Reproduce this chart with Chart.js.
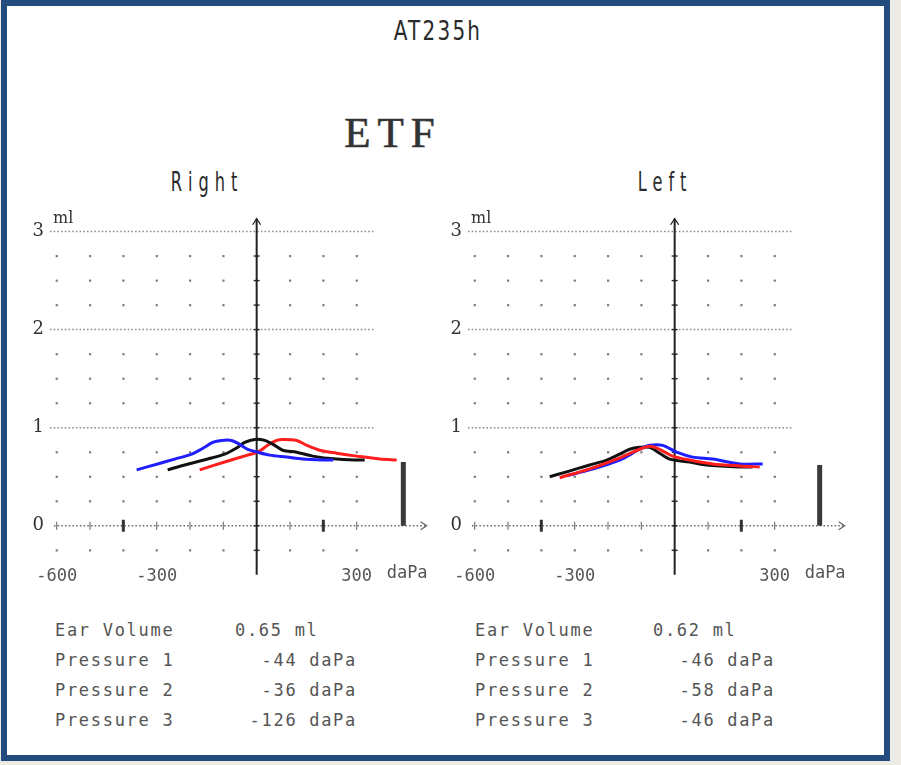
<!DOCTYPE html>
<html>
<head>
<meta charset="utf-8">
<script src="https://cdn.jsdelivr.net/npm/chart.js@4.4.1/dist/chart.umd.min.js"></script>
<style>
  body { margin: 0; background: #ecebe3; width: 901px; height: 765px; overflow: hidden; }
  #frame { position: absolute; left: 1px; top: 0; width: 877px; height: 749px; border: 6px solid #234b7d; background: #fff; }
  .txt { position: absolute; color: #2a2a2a; white-space: pre; }
  .cond { font-family: "DejaVu Sans", sans-serif; transform-origin: center; }
  .box { position: absolute; }
  .info { position: absolute; font-family: "DejaVu Sans Mono", monospace; font-size: 17px; letter-spacing: 1.7px; color: #555; white-space: pre; line-height: 20px; }
</style>
</head>
<body>
<div id="frame"></div>

<div class="txt cond" style="left:338px;top:15px;width:200px;text-align:center;font-size:27px;letter-spacing:3px;transform:scaleX(0.74);">AT235h</div>
<div class="txt" style="left:293px;top:108px;width:200px;text-align:center;font-family:'Liberation Serif',serif;font-size:43px;letter-spacing:7px;color:#333;-webkit-text-stroke:0.6px #333;">ETF</div>
<div class="txt cond" style="left:127px;top:166px;width:160px;text-align:center;font-size:27px;letter-spacing:10px;transform:scaleX(0.6);">Right</div>
<div class="txt cond" style="left:585px;top:166px;width:160px;text-align:center;font-size:27px;letter-spacing:10px;transform:scaleX(0.6);">Left</div>

<div class="box" style="left:20px;top:200px;width:410px;height:395px;"><canvas id="rightChart"></canvas></div>
<div class="box" style="left:438px;top:200px;width:410px;height:395px;"><canvas id="leftChart"></canvas></div>

<div id="rightInfo"></div>
<div id="leftInfo"></div>

<script>
// axis ticks
const pressureTicks = [-600, -300, 300];
const volumeTicks = [0, 1, 2, 3];
const gridPressures = [-600, -500, -400, -300, -200, -100, 0, 100, 200, 300];

// Right ear curves (daPa, ml)
const rightBlueP = [-360, -297, -246, -195, -156, -132, -105, -75, -51, -27, 3, 39, 90, 138, 210, 230];
const rightBlueV = [0.57, 0.63, 0.68, 0.73, 0.80, 0.85, 0.87, 0.87, 0.83, 0.78, 0.75, 0.72, 0.70, 0.68, 0.67, 0.67];
const rightBlackP = [-267, -216, -147, -96, -57, -36, -6, 24, 54, 78, 120, 168, 240, 309, 324];
const rightBlackV = [0.57, 0.62, 0.68, 0.73, 0.80, 0.85, 0.88, 0.87, 0.82, 0.77, 0.75, 0.71, 0.68, 0.67, 0.67];
const rightRedP = [-171, -96, -27, 3, 33, 60, 78, 120, 150, 189, 240, 300, 369, 420];
const rightRedV = [0.57, 0.65, 0.72, 0.75, 0.82, 0.87, 0.88, 0.87, 0.82, 0.77, 0.74, 0.71, 0.68, 0.67];

// Left ear curves (daPa, ml)
const leftBlackP = [-375, -324, -255, -204, -165, -135, -105, -75, -45, -15, 45, 96, 195, 234];
const leftBlackV = [0.50, 0.55, 0.62, 0.67, 0.73, 0.78, 0.80, 0.80, 0.74, 0.68, 0.65, 0.62, 0.60, 0.60];
const leftRedP = [-345, -255, -174, -105, -75, -45, -6, 45, 114, 195, 255];
const leftRedV = [0.49, 0.58, 0.68, 0.78, 0.81, 0.78, 0.71, 0.67, 0.63, 0.61, 0.60];
const leftBlueP = [-324, -255, -165, -105, -75, -36, 6, 54, 114, 195, 264];
const leftBlueV = [0.51, 0.57, 0.67, 0.78, 0.82, 0.82, 0.75, 0.70, 0.68, 0.63, 0.63];

// ear volume bar
const earVolume = [0.65, 0.62];
const barPressure = [440, 435];

// printed results
const infoLabels = ['Ear Volume', 'Pressure 1', 'Pressure 2', 'Pressure 3'];
const rightValues = ['0.65 ml', '-44 daPa', '-36 daPa', '-126 daPa'];
const leftValues = ['0.62 ml', '-46 daPa', '-58 daPa', '-46 daPa'];

const zip = (p, v) => p.map((x, i) => ({ x: x, y: v[i] }));

const printGrid = {
  id: 'printGrid',
  beforeDatasetsDraw(chart) {
    const { ctx, scales: { x, y } } = chart;
    ctx.save();
    // dot matrix
    ctx.fillStyle = '#7c7c7c';
    gridPressures.forEach(p => {
      for (let v = -0.25; v < 3; v += 0.25) {
        if (Number.isInteger(v)) continue;
        ctx.fillRect(x.getPixelForValue(p) - 1, y.getPixelForValue(v) - 1, 2.2, 2.2);
      }
    });
    // dotted ml lines
    ctx.strokeStyle = '#888';
    ctx.lineWidth = 1.5;
    ctx.setLineDash([1.5, 2.2]);
    [1, 2, 3].forEach(v => {
      const py = y.getPixelForValue(v);
      ctx.beginPath();
      ctx.moveTo(x.left, py);
      ctx.lineTo(x.getPixelForValue(350), py);
      ctx.stroke();
    });
    // zero line with arrow
    const y0 = y.getPixelForValue(0);
    ctx.strokeStyle = '#666';
    ctx.beginPath();
    ctx.moveTo(x.left + 4, y0);
    ctx.lineTo(x.getPixelForValue(505), y0);
    ctx.stroke();
    ctx.setLineDash([]);
    ctx.lineWidth = 1.3;
    const xa = x.getPixelForValue(510);
    ctx.beginPath();
    ctx.moveTo(xa - 6, y0 - 4); ctx.lineTo(xa, y0); ctx.lineTo(xa - 6, y0 + 4);
    ctx.stroke();
    // ticks on zero line
    gridPressures.forEach(p => {
      if (p === 0) return;
      const px = x.getPixelForValue(p);
      const bold = p === -400 || p === 200;
      ctx.strokeStyle = bold ? '#333' : '#777';
      ctx.lineWidth = bold ? 3 : 1.2;
      ctx.beginPath();
      ctx.moveTo(px, y0 - (bold ? 6 : 4));
      ctx.lineTo(px, y0 + (bold ? 6 : 4));
      ctx.stroke();
    });
    // vertical axis with arrow
    const x0 = x.getPixelForValue(0);
    ctx.strokeStyle = '#222';
    ctx.lineWidth = 2;
    ctx.beginPath();
    ctx.moveTo(x0, y.getPixelForValue(-0.5));
    ctx.lineTo(x0, y.getPixelForValue(3.13));
    ctx.stroke();
    const ya = y.getPixelForValue(3.13);
    ctx.lineWidth = 1.3;
    ctx.beginPath();
    ctx.moveTo(x0 - 4, ya + 6); ctx.lineTo(x0, ya); ctx.lineTo(x0 + 4, ya + 6);
    ctx.stroke();
    for (let v = -0.25; v < 3; v += 0.25) {
      const py = y.getPixelForValue(v);
      ctx.beginPath();
      ctx.moveTo(x0 - 3, py); ctx.lineTo(x0 + 3, py);
      ctx.stroke();
    }
    // unit labels
    ctx.fillStyle = '#333';
    ctx.font = '16px "DejaVu Serif", serif';
    ctx.textBaseline = 'bottom';
    ctx.fillText('ml', x.left + 3, y.getPixelForValue(3) - 5);
    ctx.fillStyle = '#555';
    ctx.font = '17px "DejaVu Sans Mono", monospace';
    ctx.textBaseline = 'middle';
    ctx.fillText('daPa', x.getPixelForValue(300) + 30, y.bottom + 9);
    ctx.restore();
  }
};

function makeChart(id, curves, vol, barP) {
  const datasets = curves.map(c => ({
    data: c.data,
    borderColor: c.color,
    borderWidth: 3,
    pointRadius: 0,
    tension: 0.3,
    fill: false
  }));
  datasets.push({
    data: [{ x: barP, y: 0 }, { x: barP, y: vol }],
    borderColor: '#3a3a3a',
    borderWidth: 5,
    borderCapStyle: 'butt',
    pointRadius: 0
  });
  return new Chart(document.getElementById(id).getContext('2d'), {
    type: 'line',
    data: { datasets: datasets },
    plugins: [printGrid],
    options: {
      responsive: true,
      maintainAspectRatio: false,
      animation: false,
      layout: { padding: { top: 10, left: 0, right: 0, bottom: 0 } },
      plugins: { legend: { display: false }, tooltip: { enabled: false } },
      scales: {
        x: {
          type: 'linear', min: -620, max: 520,
          grid: { display: false, drawTicks: false },
          border: { display: false },
          afterBuildTicks: s => { s.ticks = pressureTicks.map(v => ({ value: v })); },
          afterFit: s => { s.height = 30; },
          ticks: {
            autoSkip: false, maxRotation: 0, padding: 1, color: '#555',
            font: { family: '"DejaVu Sans Mono", monospace', size: 17 },
            callback: v => String(v)
          }
        },
        y: {
          type: 'linear', min: -0.4, max: 3.15,
          grid: { display: false, drawTicks: false },
          border: { display: false },
          afterBuildTicks: s => { s.ticks = volumeTicks.map(v => ({ value: v })); },
          afterFit: s => { s.width = 30; },
          ticks: {
            padding: 6, color: '#333',
            font: { family: '"DejaVu Serif", serif', size: 18 },
            callback: v => String(v)
          }
        }
      }
    }
  });
}

makeChart('rightChart', [
  { data: zip(rightBlueP, rightBlueV), color: '#1e1eff' },
  { data: zip(rightBlackP, rightBlackV), color: '#111111' },
  { data: zip(rightRedP, rightRedV), color: '#ff1e1e' }
], earVolume[0], barPressure[0]);

makeChart('leftChart', [
  { data: zip(leftRedP, leftRedV), color: '#ff1e1e' },
  { data: zip(leftBlueP, leftBlueV), color: '#1e1eff' },
  { data: zip(leftBlackP, leftBlackV), color: '#111111' }
], earVolume[1], barPressure[1]);

function writeInfo(id, labelX, volX, valRight, values) {
  const host = document.getElementById(id);
  infoLabels.forEach((lab, i) => {
    const top = 620 + i * 30;
    const l = document.createElement('div');
    l.className = 'info';
    l.style.left = labelX + 'px';
    l.style.top = top + 'px';
    l.textContent = lab;
    host.appendChild(l);
    const v = document.createElement('div');
    v.className = 'info';
    v.style.top = top + 'px';
    if (i === 0) {
      v.style.left = volX + 'px';
    } else {
      v.style.left = (valRight - 160) + 'px';
      v.style.width = '160px';
      v.style.textAlign = 'right';
    }
    v.textContent = values[i];
    host.appendChild(v);
  });
}
writeInfo('rightInfo', 55, 235, 357, rightValues);
writeInfo('leftInfo', 475, 653, 775, leftValues);
</script>
</body>
</html>
